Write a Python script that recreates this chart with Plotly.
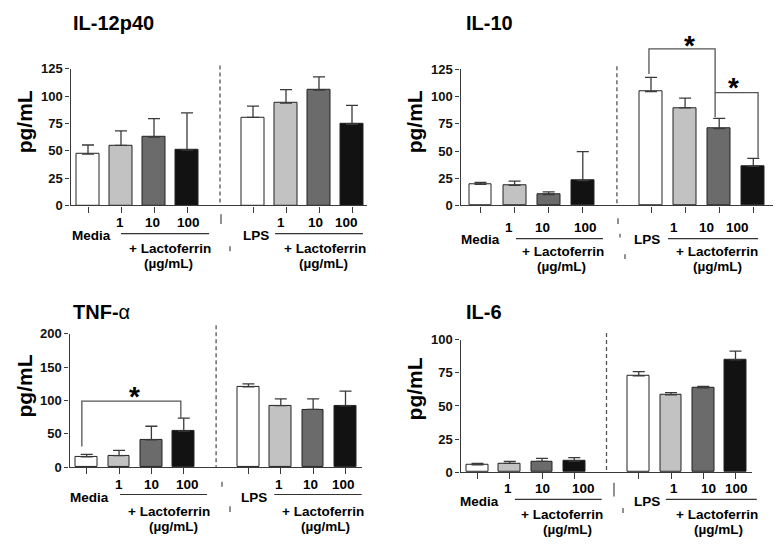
import plotly.graph_objects as go

W, H = 777, 556
FONT = "Liberation Sans, Arial, Helvetica, sans-serif"

# ---------------- data ----------------
groups = ["Media", "1", "10", "100", "LPS", "1", "10", "100"]
positions = [0, 1, 2, 3, 5, 6, 7, 8]
divider_pos = 4
lacto_label = "+ Lactoferrin"
unit_label = "(µg/mL)"
y_title = "pg/mL"

il12_mean = [47.0, 55.0, 62.5, 50.7, 80.6, 93.6, 105.5, 74.3]
il12_err = [8.3, 13.3, 16.9, 34.0, 10.3, 12.4, 12.1, 17.2]

il10_mean = [19.3, 18.5, 10.1, 22.9, 104.5, 89.6, 70.5, 36.0]
il10_err = [1.8, 3.8, 2.4, 26.5, 13.1, 8.9, 9.5, 7.2]

tnf_mean = [15.5, 17.4, 41.2, 54.2, 120.6, 92.5, 86.7, 92.0]
tnf_err = [3.9, 7.8, 20.3, 19.4, 4.4, 10.2, 16.0, 22.3]

il6_mean = [5.4, 6.6, 8.1, 8.3, 72.8, 58.3, 63.7, 84.8]
il6_err = [1.2, 1.5, 2.2, 2.7, 3.2, 1.7, 1.0, 6.6]

il12_ticks = [0, 25, 50, 75, 100, 125]
il10_ticks = [0, 25, 50, 75, 100, 125]
tnf_ticks = [0, 50, 100, 150, 200]
il6_ticks = [0, 25, 50, 75, 100]

# significance brackets: (bar index a, bar index b, bracket level)
il10_sig = [(4, 6, 143.7), (6, 7, 103.6)]
tnf_sig = [(0, 3, 99.3)]

bar_colors = ["#ffffff", "#c2c2c2", "#6b6b6b", "#121212"] * 2

# ---------------- layout of panels (pixel geometry) ----------------
panels = [
    dict(title="<b>IL-12p40</b>", mean=il12_mean, err=il12_err, ticks=il12_ticks,
         left=70.5, right=367, c0=88, s=33, ybot=204, ytop=63.5,
         title_xy=(72, 16), ytitle_xy=(24, 118.5),
         div_top=60, dashes=[(221, 213, 223), (230, 246, 251)],
         nums=[0.97, 1.94, 3.06, 5.85, 6.88, 7.82], nums_y=221.5,
         grp=[0.12, 5.09], grp_y=235, ul=[(1.0, 3.67), (5.67, 8.33)], ul_y=233,
         lac=[2.47, 7.17], lac_y=248, ug=[2.44, 7.14], ug_y=263.5,
         sig=[], leg_dx=[], leg_gap=[], star_dx=[], star_up=[]),
    dict(title="<b>IL-10</b>", mean=il10_mean, err=il10_err, ticks=il10_ticks,
         left=460.5, right=773, c0=480.5, s=34.1, ybot=204, ytop=64,
         title_xy=(465, 16), ytitle_xy=(414, 118.5),
         div_top=61, dashes=[(618, 217, 223), (620, 233, 237), (625, 254, 259)],
         nums=[0.84, 1.83, 3.09, 5.67, 6.64, 7.55], nums_y=227,
         grp=[0.01, 4.87], grp_y=239, ul=[(1.04, 3.59), (5.5, 8.14)], ul_y=238,
         lac=[2.42, 6.95], lac_y=251.5, ug=[2.38, 6.96], ug_y=266.5,
         sig=il10_sig, leg_dx=[(-0.06, -0.12), (-0.12, 0.14)],
         leg_gap=[(3.0, 1.2), (None, 0.5)], star_dx=[0.23, -0.08], star_up=[10, 12]),
    dict(title="<b>TNF-</b>α", mean=tnf_mean, err=tnf_err, ticks=tnf_ticks,
         left=69.5, right=362, c0=86.7, s=32.35, ybot=473, ytop=336,
         title_xy=(72, 313), ytitle_xy=(24, 390),
         div_top=327, dashes=[(222, 488, 493), (230, 513, 519)],
         nums=[1.0, 2.0, 3.13, 5.95, 6.93, 7.95], nums_y=491,
         grp=[0.09, 5.17], grp_y=504, ul=[(1.03, 3.72), (5.8, 8.5)], ul_y=501,
         lac=[2.53, 7.29], lac_y=518.5, ug=[2.67, 7.38], ug_y=533.5,
         sig=tnf_sig, leg_dx=[(-0.15, -0.09)], leg_gap=[(11.7, 0.0)],
         star_dx=[0.11], star_up=[12]),
    dict(title="<b>IL-6</b>", mean=il6_mean, err=il6_err, ticks=il6_ticks,
         left=460.5, right=752, c0=477.5, s=32.25, ybot=478, ytop=342,
         title_xy=(465, 313), ytitle_xy=(414, 393),
         div_top=335, dashes=[(614, 489, 503), (623, 515, 520)],
         nums=[0.94, 2.02, 3.3, 6.09, 7.15, 8.04], nums_y=495,
         grp=[0.07, 5.25], grp_y=508, ul=[(1.16, 3.85), (5.84, 8.66)], ul_y=506,
         lac=[2.62, 7.42], lac_y=521.5, ug=[2.78, 7.46], ug_y=537.5,
         sig=[], leg_dx=[], leg_gap=[], star_dx=[], star_up=[]),
]

AXC = "#3a3a3a"
fig = go.Figure()
shapes, annos = [], []


def py(p):
    return 1 - p / H


for k, P in enumerate(panels, start=1):
    xa = "x" if k == 1 else f"x{k}"
    ya = "y" if k == 1 else f"y{k}"
    xr = [(P["left"] - P["c0"]) / P["s"], (P["right"] - P["c0"]) / P["s"]]
    ymax = P["ticks"][-1]
    yd = [py(P["ybot"]), py(P["ytop"])]

    def xpaper(x, P=P):
        return (P["c0"] + x * P["s"]) / W

    def ypaper(v, yd=yd, ymax=ymax):
        return yd[0] + v / ymax * (yd[1] - yd[0])

    fig.add_trace(go.Bar(
        x=positions, y=P["mean"], width=0.67, xaxis=xa, yaxis=ya,
        marker=dict(color=bar_colors, line=dict(color="#222222", width=1)),
        error_y=dict(type="data", symmetric=False, array=P["err"],
                     arrayminus=[0] * len(P["err"]), color=AXC,
                     thickness=1.3, width=6),
        cliponaxis=False, showlegend=False, hoverinfo="skip"))

    axis_common = dict(showline=True, linecolor=AXC, linewidth=1.3,
                       ticks="outside", tickcolor=AXC, tickwidth=1.2,
                       showgrid=False, zeroline=False, fixedrange=True)
    fig.layout[("xaxis" if k == 1 else f"xaxis{k}")] = dict(
        axis_common, domain=[P["left"] / W, P["right"] / W], range=xr,
        tickvals=positions, ticktext=[""] * len(positions), ticklen=6,
        anchor=ya)
    fig.layout[("yaxis" if k == 1 else f"yaxis{k}")] = dict(
        axis_common, domain=yd, range=[0, ymax],
        tickvals=P["ticks"], ticklen=4, anchor=xa,
        tickfont=dict(family=FONT, size=13, color="#111", weight="bold"))

    # divider
    dx = xpaper(divider_pos)
    shapes.append(dict(type="line", xref="paper", yref="paper", x0=dx, x1=dx,
                       y0=py(P["div_top"]), y1=py(P["ybot"]),
                       line=dict(color="#555", width=1.3, dash="4px,3px")))
    for (xp, y0p, y1p) in P["dashes"]:
        shapes.append(dict(type="line", xref="paper", yref="paper",
                           x0=xp / W, x1=xp / W, y0=py(y0p), y1=py(y1p),
                           line=dict(color="#555", width=1.3)))

    # title and y title
    annos.append(dict(text=P["title"], xref="paper", yref="paper",
                      x=P["title_xy"][0] / W, y=py(P["title_xy"][1]),
                      xanchor="left", yanchor="middle", showarrow=False,
                      borderpad=0,
                      font=dict(family=FONT, size=20, color="#000")))
    annos.append(dict(text=f"<b>{y_title}</b>", xref="paper", yref="paper",
                      x=P["ytitle_xy"][0] / W, y=py(P["ytitle_xy"][1]),
                      xanchor="center", yanchor="middle", textangle=-90,
                      showarrow=False, borderpad=0,
                      font=dict(family=FONT, size=21, color="#000")))

    lab_font = dict(family=FONT, size=13.5, color="#000", weight="bold")
    num_labels = groups[1:4] + groups[5:8]

    def lab(t, xv, yp):
        annos.append(dict(text=t, xref=xa, yref="paper", x=xv, y=py(yp),
                          xanchor="center", yanchor="middle", showarrow=False,
                          borderpad=0, font=lab_font))

    for t, xv in zip(num_labels, P["nums"]):
        lab(t, xv, P["nums_y"])
    for t, xv in zip([groups[0], groups[4]], P["grp"]):
        lab(t, xv, P["grp_y"])
    for xv in P["lac"]:
        lab(lacto_label, xv, P["lac_y"])
    for xv in P["ug"]:
        lab(unit_label, xv, P["ug_y"])
    for (a, b) in P["ul"]:
        shapes.append(dict(type="line", xref="paper", yref="paper",
                           x0=xpaper(a), x1=xpaper(b), y0=py(P["ul_y"]),
                           y1=py(P["ul_y"]), line=dict(color="#333", width=1.2)))

    # significance brackets
    for (ia, ib, lvl), (da, db), (ga, gb), sdx, sup in zip(
            P["sig"], P["leg_dx"], P["leg_gap"], P["star_dx"], P["star_up"]):
        xa_ = positions[ia] + da
        xb_ = positions[ib] + db
        ya_bot = lvl if ga is None else P["mean"][ia] + P["err"][ia] + ga
        yb_bot = P["mean"][ib] + P["err"][ib] + gb
        pts = [(xa_, ya_bot), (xa_, lvl), (xb_, lvl), (xb_, yb_bot)]
        path = " ".join(("M" if i == 0 else "L") +
                        f" {xpaper(x):.5f},{ypaper(y):.5f}"
                        for i, (x, y) in enumerate(pts))
        shapes.append(dict(type="path", xref="paper", yref="paper", path=path,
                           line=dict(color="#555", width=1.3)))
        annos.append(dict(text="<b>*</b>", xref="paper", yref="paper",
                          x=xpaper((xa_ + xb_) / 2 + sdx), y=ypaper(lvl),
                          yshift=sup - 7, borderpad=0,
                          xanchor="center", yanchor="middle", showarrow=False,
                          font=dict(family=FONT, size=28, color="#000")))

fig.update_layout(width=W, height=H, margin=dict(l=0, r=0, t=0, b=0),
                  paper_bgcolor="white", plot_bgcolor="white",
                  shapes=shapes, annotations=annos, bargap=0,
                  font=dict(family=FONT))
fig.write_html("out.html", config={"displayModeBar": False},
               post_script="document.body.style.margin='0';")
